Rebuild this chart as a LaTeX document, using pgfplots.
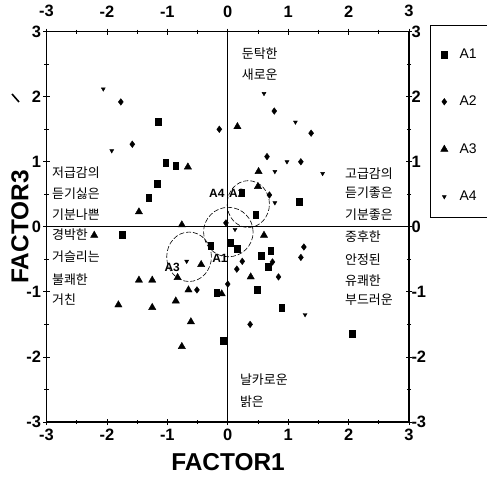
\documentclass[border=0pt]{standalone}
\usepackage{fontspec}
\setmainfont{Liberation Sans}
\newfontfamily\kr{Noto Sans CJK KR}
\usepackage{pgfplots}
\pgfplotsset{compat=1.18}
\newcommand\PX[2]{([shift={({#1bp-46.5bp},{422bp-#2bp})}]sw)}
\newcommand\krf{\kr\fontsize{13}{13}\selectfont}
\begin{document}
\begin{tikzpicture}
\begin{axis}[
 scale only axis, width=362.5bp, height=390.3bp,
 xmin=-3,xmax=3,ymin=-3,ymax=3,
 xtick={-3,-2,-1,0,1,2,3}, ytick={-3,-2,-1,0,1,2,3},
 minor xtick={-2.5,-1.5,-0.5,0.5,1.5,2.5},
 minor ytick={-2.5,-1.5,-0.5,0.5,1.5,2.5},
 xtick pos=both, ytick pos=both,
 xticklabel pos=lower, yticklabel pos=left,
 tick align=center, major tick length=6bp, minor tick length=4bp,
 tick style={line width=0.8bp, black},
 axis line style={line width=1.3bp},
 /pgf/number format/assume math mode=true,
 ticklabel style={font=\bfseries\fontsize{16.5}{16.5}\selectfont},
 xticklabel style={yshift=-1bp},
 yticklabel style={xshift=1bp},
 legend image code/.code={\path (-6bp,0) (13bp,0); \draw[#1] plot coordinates {(0bp,0bp)};},
 legend style={at={(rel axis cs:1.0715,0.967)}, anchor=north west, draw=none, fill=none,
   row sep=32.3bp, font=\fontsize{14}{14}\selectfont, cells={anchor=west}},
]
\coordinate (sw) at (rel axis cs:0,0);
\draw[line width=0.7bp] (axis cs:0,-3) -- (axis cs:0,3);
\draw[line width=0.7bp] (axis cs:-3,0) -- (axis cs:3,0);
\draw[line width=0.6bp, dash pattern=on 5bp off 2bp] (axis cs:0.34,0.35) ellipse [x radius=0.35, y radius=0.36];
\draw[line width=0.6bp, dash pattern=on 5bp off 2bp] (axis cs:0.01,-0.08) ellipse [x radius=0.41, y radius=0.38];
\draw[line width=0.6bp, dash pattern=on 5bp off 2bp] (axis cs:-0.64,-0.46) ellipse [x radius=0.37, y radius=0.38];
\node[font=\fontsize{12}{12}\selectfont\bfseries, inner sep=0] at (axis cs:-0.18,0.52) {A4};
\node[font=\fontsize{12}{12}\selectfont\bfseries, inner sep=0] at (axis cs:0.15,0.52) {A2};
\node[font=\fontsize{12}{12}\selectfont\bfseries, inner sep=0] at (axis cs:-0.13,-0.48) {A1};
\node[font=\fontsize{12}{12}\selectfont\bfseries, inner sep=0] at (axis cs:-0.92,-0.63) {A3};
\addplot[only marks, mark=square*, mark size=2.8bp, mark options={yscale=1.25}] coordinates {
(-1.15,1.61) (-1.03,0.99) (-0.86,0.94) (-1.17,0.66) (-1.31,0.45) (-1.75,-0.12)
(-0.28,-0.29) (-0.18,-1.01) (-0.08,-1.75) (0.23,0.53) (1.18,0.39) (0.46,0.19)
(0.04,-0.25) (0.16,-0.33) (0.71,-0.36) (0.55,-0.45) (0.67,-0.61) (0.49,-0.97)
(0.89,-1.24) (2.06,-1.65)};
\addplot[only marks, mark=diamond*, mark size=3.3bp] coordinates {
(-1.77,1.92) (-0.14,1.50) (-1.58,1.27) (0.77,1.78) (1.38,1.44) (0.65,1.08)
(1.21,1.00) (0.69,0.49) (-0.51,-0.97) (0.00,-0.88) (-0.03,0.06) (1.26,-0.31)
(1.21,-0.47) (0.24,-0.53) (0.74,-0.54) (0.15,-0.65) (0.84,-0.77) (0.37,-1.50)};
\addplot[only marks, mark=triangle*, mark size=4.2bp] coordinates {
(-0.66,0.92) (-1.47,0.23) (-0.76,0.03) (-2.21,-0.13) (-0.44,-0.58) (-1.47,-0.82)
(-1.25,-0.82) (-0.83,-0.78) (-0.65,-0.97) (-0.10,-1.03) (-1.81,-1.20) (-1.25,-1.24)
(-0.86,-1.14) (-0.61,-1.46) (-0.76,-1.84) (0.16,1.54) (0.51,0.85) (0.50,0.62)
(0.60,-0.13) (0.38,-0.77)};
\addplot[only marks, mark=triangle*, mark size=2.3bp, mark options={rotate=180}] coordinates {
(-2.06,2.12) (-1.92,1.17) (-0.68,-0.53) (0.60,2.05) (1.12,1.61) (0.98,1.00)
(0.78,0.85) (1.57,0.82) (0.78,0.37) (0.12,-0.04) (1.28,-1.35)};
\legend{A1,A2,A3,A4}
\node[anchor=west, font=\krf, inner sep=0] at (axis cs:-2.91,0.83) {저급감의};
\node[anchor=west, font=\krf, inner sep=0] at (axis cs:-2.91,0.51) {듣기싫은};
\node[anchor=west, font=\krf, inner sep=0] at (axis cs:-2.91,0.19) {기분나쁜};
\node[anchor=west, font=\krf, inner sep=0] at (axis cs:-2.91,-0.12) {경박한};
\node[anchor=west, font=\krf, inner sep=0] at (axis cs:-2.91,-0.46) {거슬리는};
\node[anchor=west, font=\krf, inner sep=0] at (axis cs:-2.91,-0.81) {불쾌한};
\node[anchor=west, font=\krf, inner sep=0] at (axis cs:-2.91,-1.12) {거친};
\node[anchor=west, font=\krf, inner sep=0] at (axis cs:0.23,2.66) {둔탁한};
\node[anchor=west, font=\krf, inner sep=0] at (axis cs:0.23,2.34) {새로운};
\node[anchor=west, font=\krf, inner sep=0] at (axis cs:1.94,0.82) {고급감의};
\node[anchor=west, font=\krf, inner sep=0] at (axis cs:1.94,0.52) {듣기좋은};
\node[anchor=west, font=\krf, inner sep=0] at (axis cs:1.94,0.19) {기분좋은};
\node[anchor=west, font=\krf, inner sep=0] at (axis cs:1.94,-0.15) {중후한};
\node[anchor=west, font=\krf, inner sep=0] at (axis cs:1.94,-0.51) {안정된};
\node[anchor=west, font=\krf, inner sep=0] at (axis cs:1.94,-0.82) {유쾌한};
\node[anchor=west, font=\krf, inner sep=0] at (axis cs:1.94,-1.12) {부드러운};
\node[anchor=west, font=\krf, inner sep=0] at (axis cs:0.20,-2.35) {날카로운};
\node[anchor=west, font=\krf, inner sep=0] at (axis cs:0.20,-2.69) {밝은};
\end{axis}
\begin{axis}[
 scale only axis, width=362.5bp, height=390.3bp,
 xmin=-3,xmax=3,ymin=-3,ymax=3,
 xtick={-3,-2,-1,0,1,2,3}, ytick={-3,-2,-1,0,1,2,3},
 axis x line*=top, axis y line*=right,
 axis line style={draw=none}, tick style={draw=none},
 /pgf/number format/assume math mode=true,
 ticklabel style={font=\bfseries\fontsize{16.5}{16.5}\selectfont},
 xticklabel style={yshift=11bp},
 yticklabel style={xshift=-1bp},
]
\end{axis}
\draw[line width=0.8bp] \PX{430}{25} rectangle \PX{560}{217};
\draw[line width=1.6bp] \PX{12}{94} -- \PX{19}{102};
\node[rotate=90, font=\bfseries\fontsize{24.5}{24.5}\selectfont] at \PX{20}{227} {FACTOR3};
\node[font=\bfseries\fontsize{24.5}{24.5}\selectfont] at \PX{228}{462} {FACTOR1};
\pgfresetboundingbox
\path \PX{0}{0} rectangle \PX{487}{488};
\end{tikzpicture}
\end{document}
